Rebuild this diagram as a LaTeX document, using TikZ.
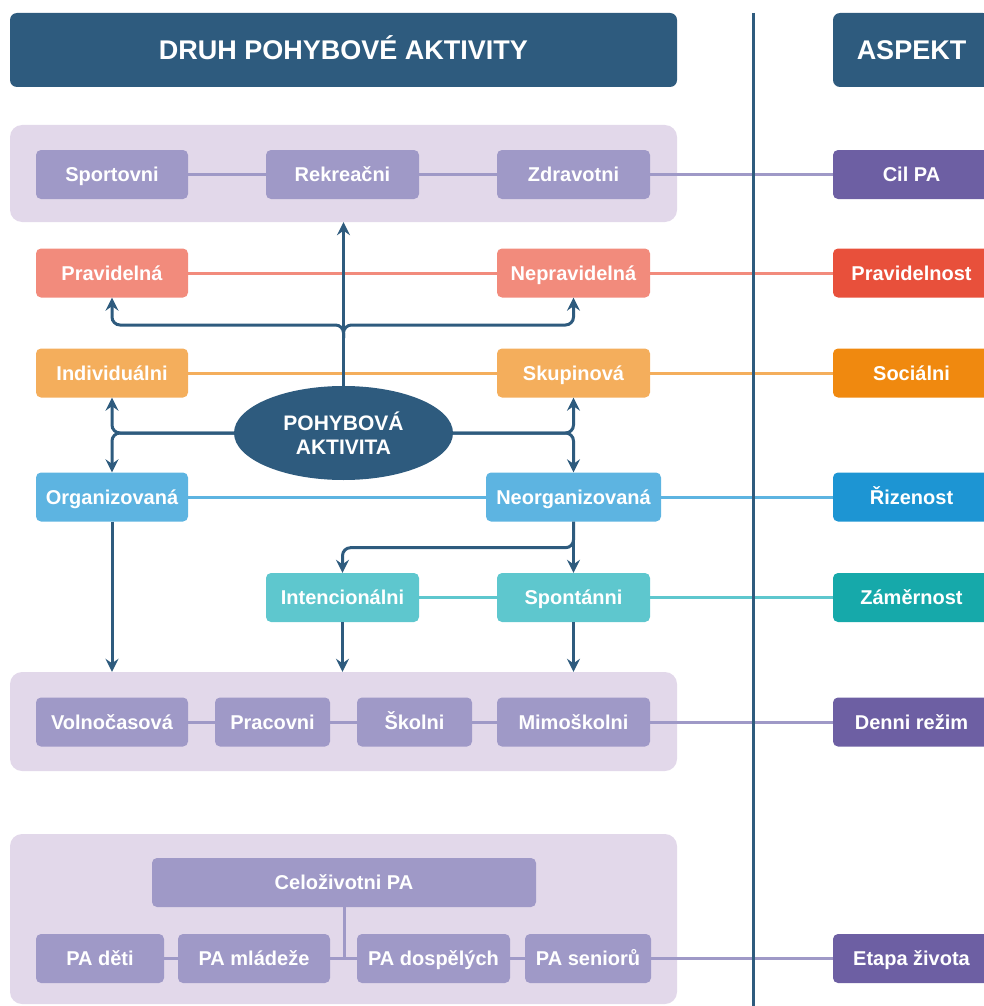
\documentclass[tikz,border=0pt]{standalone}
\usepackage{fontspec}
\setmainfont{Liberation Sans}
\usetikzlibrary{arrows.meta,shapes.geometric}

\definecolor{navy}{HTML}{2E5B7E}
\definecolor{panelbg}{HTML}{E2D8EA}
\definecolor{lilac}{HTML}{9F99C7}
\definecolor{lilacdark}{HTML}{6D5FA3}
\definecolor{salmon}{HTML}{F28B7C}
\definecolor{salmondark}{HTML}{E8503B}
\definecolor{apricot}{HTML}{F4AE5C}
\definecolor{apricotdark}{HTML}{F0890F}
\definecolor{sky}{HTML}{5DB4E1}
\definecolor{skydark}{HTML}{1D95D3}
\definecolor{aqua}{HTML}{5EC7CE}
\definecolor{aquadark}{HTML}{16A9AA}

\begin{document}
\begin{tikzpicture}[x=1pt,y=-1pt,
  box/.style={rounded corners=5pt,minimum height=49pt,inner sep=0pt,text height=14.5pt,text depth=0pt,text=white,font=\bfseries\fontsize{20}{24}\selectfont},
  head/.style={fill=navy,rounded corners=7pt,minimum height=74pt,inner sep=0pt,text height=19.5pt,text depth=0pt,text=white,font=\bfseries\fontsize{27}{30}\selectfont},
  panel/.style={fill=panelbg,rounded corners=12pt,inner sep=0pt},
  link/.style={line width=3pt},
  flow/.style={navy,line width=3pt,-{Stealth[length=13pt,width=13pt,inset=4.5pt]}}]

\useasboundingbox (0,0) rectangle (984,1006);

% headers
\node [head,minimum width=667pt] (druh) at (343.5,50) {DRUH POHYBOVÉ AKTIVITY};
\node [head,minimum width=157pt] (aspekt) at (911.5,50) {ASPEKT};

% panels
\node [panel,minimum width=667pt,minimum height=97pt] (cilpanel) at (343.5,173.5) {};
\node [panel,minimum width=667pt,minimum height=99pt] (rezimpanel) at (343.5,721.5) {};
\node [panel,minimum width=667pt,minimum height=170pt] (etapapanel) at (343.5,919) {};

% cil PA
\node [box,fill=lilac,minimum width=152pt] (sport) at (112,174.5) {Sportovni};
\node [box,fill=lilac,minimum width=153pt] (rekr) at (342.5,174.5) {Rekreačni};
\node [box,fill=lilac,minimum width=153pt] (zdrav) at (573.5,174.5) {Zdravotni};
\node [box,fill=lilacdark,minimum width=157pt] (cil) at (911.5,174.5) {Cil PA};

% pravidelnost
\node [box,fill=salmon,minimum width=152pt] (prav) at (112,273) {Pravidelná};
\node [box,fill=salmon,minimum width=153pt] (nepr) at (573.5,273) {Nepravidelná};
\node [box,fill=salmondark,minimum width=157pt] (pravid) at (911.5,273) {Pravidelnost};

% socialni
\node [box,fill=apricot,minimum width=152pt] (indiv) at (112,373) {Individuálni};
\node [box,fill=apricot,minimum width=153pt] (skup) at (573.5,373) {Skupinová};
\node [box,fill=apricotdark,minimum width=157pt] (social) at (911.5,373) {Sociálni};

% pohybova aktivita
\node [ellipse,fill=navy,minimum width=219pt,minimum height=94pt,inner sep=0pt,text=white,align=center,font=\bfseries\fontsize{21}{24}\selectfont] (pa) at (343.5,433) {POHYBOVÁ\\AKTIVITA};

% rizenost
\node [box,fill=sky,minimum width=152pt] (org) at (112,497) {Organizovaná};
\node [box,fill=sky,minimum width=175pt] (neorg) at (573.5,497) {Neorganizovaná};
\node [box,fill=skydark,minimum width=157pt] (rizen) at (911.5,497) {Řizenost};

% zamernost
\node [box,fill=aqua,minimum width=153pt] (intenc) at (342.5,597.5) {Intencionálni};
\node [box,fill=aqua,minimum width=153pt] (spont) at (573.5,597.5) {Spontánni};
\node [box,fill=aquadark,minimum width=157pt] (zamer) at (911.5,597.5) {Záměrnost};

% denni rezim
\node [box,fill=lilac,minimum width=152pt] (volno) at (112,722) {Volnočasová};
\node [box,fill=lilac,minimum width=115pt] (prac) at (272.5,722) {Pracovni};
\node [box,fill=lilac,minimum width=115pt] (skol) at (414.5,722) {Školni};
\node [box,fill=lilac,minimum width=153pt] (mimo) at (573.5,722) {Mimoškolni};
\node [box,fill=lilacdark,minimum width=157pt] (rezim) at (911.5,722) {Denni režim};

% etapa zivota
\node [box,fill=lilac,minimum width=384pt] (celo) at (344,882.5) {Celoživotni PA};
\node [box,fill=lilac,minimum width=128pt] (deti) at (100,958.5) {PA děti};
\node [box,fill=lilac,minimum width=152pt] (mlad) at (254,958.5) {PA mládeže};
\node [box,fill=lilac,minimum width=153pt] (dosp) at (433.5,958.5) {PA dospělých};
\node [box,fill=lilac,minimum width=126pt] (senior) at (588,958.5) {PA seniorů};
\node [box,fill=lilacdark,minimum width=157pt] (etapa) at (911.5,958.5) {Etapa života};

% links
\draw [link,lilac] (sport.east) -- (rekr.west) (rekr.east) -- (zdrav.west) (zdrav.east) -- (cil.west);
\draw [link,salmon] (prav.east) -- (nepr.west) (nepr.east) -- (pravid.west);
\draw [link,apricot] (indiv.east) -- (skup.west) (skup.east) -- (social.west);
\draw [link,sky] (org.east) -- (neorg.west) (neorg.east) -- (rizen.west);
\draw [link,aqua] (intenc.east) -- (spont.west) (spont.east) -- (zamer.west);
\draw [link,lilac] (volno.east) -- (prac.west) (prac.east) -- (skol.west) (skol.east) -- (mimo.west) (mimo.east) -- (rezim.west);
\draw [link,lilac] (deti.east) -- (mlad.west) (mlad.east) -- (dosp.west) (dosp.east) -- (senior.west) (senior.east) -- (etapa.west);
\draw [link,lilac] (celo.south) -- (celo.south |- mlad.east);

% arrows
\draw [flow] (pa.north) -- (cilpanel.south);
\draw [flow,rounded corners=8pt] (343.5,338) -- (343.5,325) -| (prav.south);
\draw [flow,rounded corners=8pt] (343.5,338) -- (343.5,325) -| (nepr.south);
\draw [flow,rounded corners=8pt] (pa.west) -| (indiv.south);
\draw [flow,rounded corners=8pt] (pa.west) -| (org.north);
\draw [flow,rounded corners=8pt] (pa.east) -| (skup.south);
\draw [flow,rounded corners=8pt] (pa.east) -| (neorg.north);
\draw [flow] (org.south) -- (org.south |- rezimpanel.north);
\draw [flow] (neorg.south) -- (spont.north);
\draw [flow,rounded corners=8pt] (neorg.south) -- ++(0,26) -| (intenc.north);
\draw [flow] (intenc.south) -- (intenc.south |- rezimpanel.north);
\draw [flow] (spont.south) -- (spont.south |- rezimpanel.north);

% divider
\draw [navy,line width=3pt] (753,13) -- (753,1006);

\end{tikzpicture}
\end{document}
